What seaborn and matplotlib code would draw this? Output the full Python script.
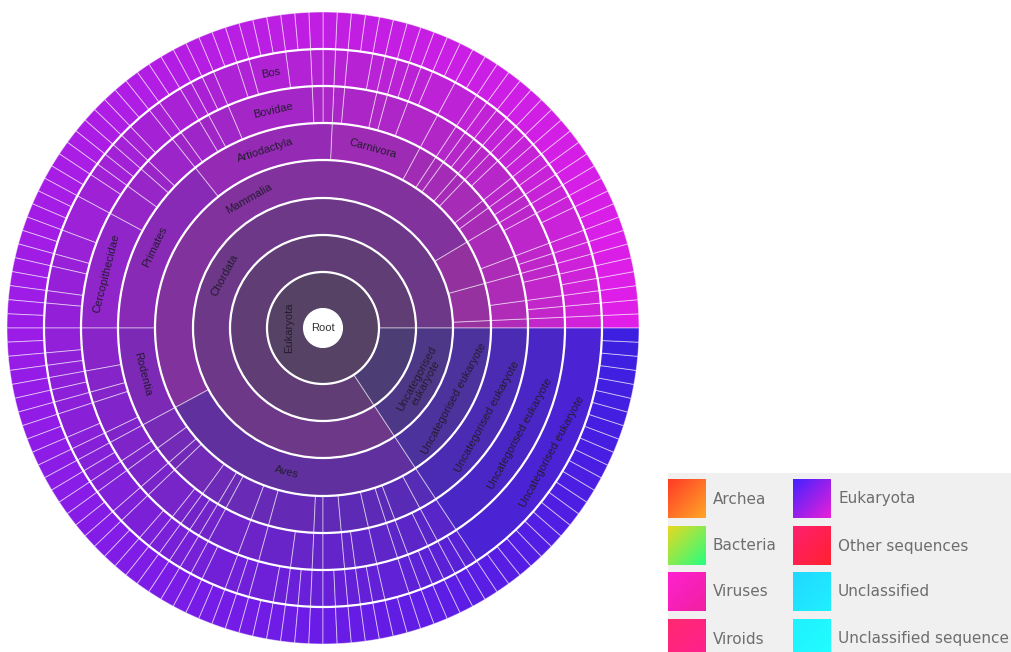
import numpy as np
import matplotlib
matplotlib.use('Agg')
import matplotlib.pyplot as plt
import matplotlib.colors as mcolors
from matplotlib.patches import Wedge, Circle
import seaborn as sns

# rings from the centre outwards, sizes in species counts,
# laid out from 3 o'clock going counter-clockwise
kingdom_labels = ["Eukaryota"]
kingdom_sizes = [140]

subkingdom_labels = ["", ""]
subkingdom_sizes = [118, 22]

phylum_labels = ["Chordata", "Uncategorised\neukaryote"]
phylum_sizes = [118, 22]

class_labels = ["", "", "", "Mammalia", "Aves", "Uncategorised eukaryote"]
class_sizes = [1, 5, 6, 69, 37, 22]

order_sizes = [1, 2, 3, 2, 4,
               2, 1, 3, 1, 2, 1, 2,
               10, 16, 20, 11,
               3, 2, 1, 4, 2, 1, 3, 2, 5, 1, 2, 3, 2, 1, 3, 2,
               22]
order_labels = ([""] * 12 + ["Carnivora", "Artiodactyla", "Primates", "Rodentia"]
                + [""] * 16 + ["Uncategorised eukaryote"])

family_sizes = [1, 1, 1, 2, 1, 1, 1, 3, 1,
                1, 1, 1, 2, 1, 1, 1, 1, 1, 2,
                3, 2, 1, 3, 1,
                1, 1, 8, 2, 1, 2, 1,
                3, 1, 2, 3, 11,
                4, 2, 1, 3, 1,
                2, 1, 2, 1, 3, 1, 1, 1, 1, 3, 2, 3, 2, 1, 2, 1, 2, 2, 1, 2, 1, 2,
                22]
family_labels = ([""] * 24 + ["", "", "Bovidae", "", "", "", ""]
                 + ["", "", "", "", "Cercopithecidae"] + [""] * 27
                 + ["Uncategorised eukaryote"])

genus_sizes = [1, 1, 1, 1, 1, 1, 1, 1, 2, 1, 1,
               1, 1, 1, 1, 1, 1, 1, 1, 1, 1, 2,
               2, 1, 1, 1, 1, 1, 2, 1,
               1, 1, 2, 3, 1, 2, 1, 1, 1, 2, 1,
               2, 1, 1, 1, 1, 1, 2, 3, 2, 1, 2, 1, 2,
               2, 1, 1, 1, 1, 1, 2, 1, 1,
               1, 1, 1, 2, 1, 2, 1, 1, 1, 1, 1, 1, 2, 1, 1, 2, 1,
               1, 1, 1, 1, 1, 1, 1, 1, 2, 1, 1, 1, 1, 1, 1,
               22]
genus_labels = ([""] * 33 + ["Bos"] + [""] * 61 + ["Uncategorised eukaryote"])

species_sizes = [1] * 140
species_labels = [""] * 140

rings = [
    (kingdom_sizes, kingdom_labels),
    (subkingdom_sizes, subkingdom_labels),
    (phylum_sizes, phylum_labels),
    (class_sizes, class_labels),
    (order_sizes, order_labels),
    (family_sizes, family_labels),
    (genus_sizes, genus_labels),
    (species_sizes, species_labels),
]

legend_names = ["Archea", "Bacteria", "Viruses", "Viroids",
                "Eukaryota", "Other sequences", "Unclassified", "Unclassified sequence"]
legend_from = ["#ff3a26", "#e8d820", "#ff20d0", "#ff2a70",
               "#4422ff", "#ff2070", "#20d8ff", "#20f0ff"]
legend_to = ["#ffa626", "#26ff80", "#f020a0", "#ff2090",
             "#e820d8", "#ff2030", "#20f0ff", "#20ffff"]

ring_edges = [19, 56, 93, 130, 168, 205, 242, 279, 316]
ring_dim = [0.9, 0.78, 0.65, 0.5, 0.33, 0.2, 0.1, 0.0]

sns.set_style("white")
plt.rcParams['font.family'] = ['Liberation Sans', 'DejaVu Sans']

angle_cmap = sns.blend_palette(["#e01ee8", "#c01ee2", "#9a1ce6", "#6a1ce6", "#3c1fe0"],
                               as_cmap=True)
base_grey = np.array(mcolors.to_rgb("#4e4656"))


def seg_colour(mid, depth):
    c = np.array(angle_cmap(mid / 360.0)[:3])
    w = ring_dim[depth]
    return tuple((1 - w) * c + w * base_grey)


def upright(rot):
    while rot > 90:
        rot -= 180
    while rot <= -90:
        rot += 180
    return rot


fig = plt.figure(figsize=(10.11, 6.52), dpi=100)
ax = fig.add_axes([3 / 1011, 4 / 652, 640 / 1011, 640 / 652])

total = sum(species_sizes)
unit = 360.0 / total

for depth, (sizes, labels) in enumerate(rings):
    r_in, r_out = ring_edges[depth], ring_edges[depth + 1]
    start = 0.0
    for size, label in zip(sizes, labels):
        span = size * unit
        mid = start + span / 2
        ax.add_patch(Wedge((0, 0), r_out, start, start + span, width=r_out - r_in,
                           facecolor=seg_colour(mid, depth),
                           edgecolor=(1, 1, 1, 0.5), lw=0.7))
        if label:
            r_mid = (r_in + r_out) / 2
            if depth == 0:
                r_mid = 34
            th = np.deg2rad(mid)
            ax.text(r_mid * np.cos(th), r_mid * np.sin(th), label,
                    rotation=upright(mid - 90), rotation_mode='anchor',
                    ha='center', va='center', fontsize=8, color='#241c30',
                    linespacing=1.0)
        start += span

for r in ring_edges[1:-1]:
    ax.add_patch(Circle((0, 0), r, fill=False, edgecolor='white', lw=1.6))
ax.add_patch(Circle((0, 0), ring_edges[0], facecolor='white', edgecolor='white', lw=1.5))
ax.text(0, 0, "Root", ha='center', va='center', fontsize=8, color='#333333')

ax.set_xlim(-320, 320)
ax.set_ylim(-320, 320)
ax.axis('off')

# legend panel with gradient swatches
lax = fig.add_axes([668 / 1011, 0, 343 / 1011, 179 / 652])
lax.set_facecolor('#f0f0f0')
g = np.linspace(0, 1, 40)
tt = (g[None, :] + g[:, None]) / 2
col_x = [668, 793]
row_y = [479, 526, 572, 619]
for i, name in enumerate(legend_names):
    x0 = col_x[i // 4]
    y0 = row_y[i % 4]
    c1 = np.array(mcolors.to_rgb(legend_from[i]))
    c2 = np.array(mcolors.to_rgb(legend_to[i]))
    img = c1 + tt[..., None] * (c2 - c1)
    lax.imshow(img, extent=(x0, x0 + 38, y0 + 39, y0), origin='upper',
               aspect='auto', interpolation='bilinear')
    lax.text(x0 + 45, y0 + 20, name, ha='left', va='center', fontsize=11,
             color='#6e6e6e', family=['DejaVu Sans'])
lax.set_xlim(668, 1011)
lax.set_ylim(652, 473)
lax.set_xticks([])
lax.set_yticks([])
for s in lax.spines.values():
    s.set_visible(False)

plt.savefig('out.png', dpi=100)
